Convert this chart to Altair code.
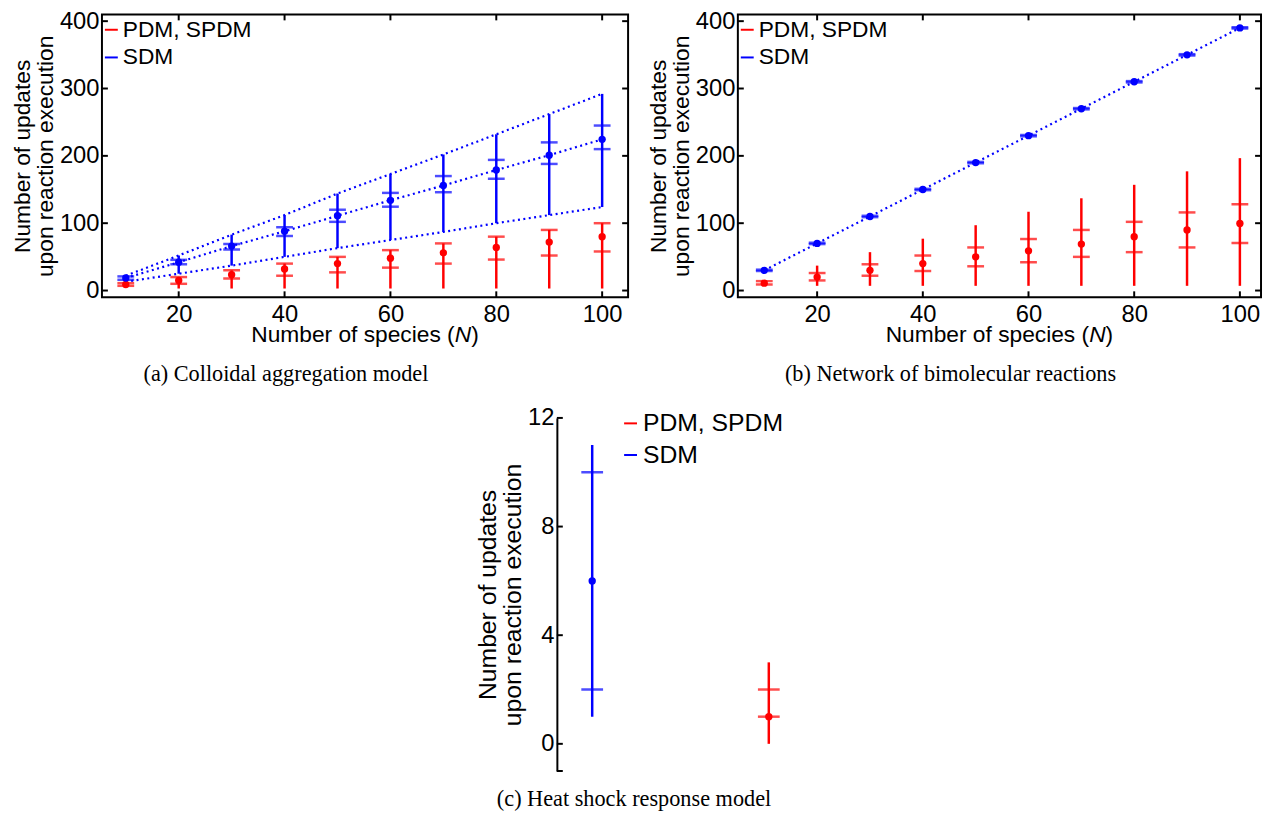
import altair as alt
import pandas as pd

# ---------------- data ----------------
N = [10, 20, 30, 40, 50, 60, 70, 80, 90, 100]
SERIES = ["PDM, SPDM", "SDM"]
COLORS = ["#ff0000", "#0000ff"]

# (a) Colloidal aggregation model
a_red_mean = [9, 15, 23.5, 32, 40, 48, 56, 64, 72, 80]
a_red_min = [4, 3, 3, 3, 3, 3, 3, 3, 3, 3]
a_red_max = [12.5, 20, 30, 40, 50, 60, 70, 80, 90, 100]
a_red_qlo = [7, 10, 18, 22, 27, 34, 40, 46, 52, 58]
a_red_qhi = [11, 20, 30, 40, 50, 60, 70, 80, 90, 100]
a_blue_mean = [18.6, 42, 66, 88, 111, 134, 156, 179, 201, 224.5]
a_blue_min = [13, 25, 37, 50, 63, 75, 87, 100, 112, 124]
a_blue_max = [22, 52, 83, 112, 144, 173, 202, 232, 262, 292]
a_blue_qlo = [16, 39, 61, 81, 102, 124.5, 146, 166, 188, 210]
a_blue_qhi = [21, 45.6, 69, 94, 120, 145, 170, 194, 220, 245]

# (b) Network of bimolecular reactions
b_red_mean = [11, 20, 30, 40, 50, 59, 69, 80, 90, 99.5]
b_red_min = [8, 7, 7, 7, 7, 7, 7, 7, 7, 7]
b_red_max = [15, 37, 57, 77, 97, 117, 137, 157, 177, 196.6]
b_red_qlo = [9, 15, 22, 29, 36, 42, 50, 57, 64, 70.6]
b_red_qhi = [14, 26, 39, 52, 64, 76.5, 90, 102, 116, 128]
b_blue_mean = [30, 70, 110, 150, 190, 230, 270, 310, 350, 390]
b_blue_min = [29, 69, 109, 149, 189, 229, 269, 309, 349, 389]
b_blue_max = [31, 71, 111, 151, 191, 231, 271, 311, 351, 391]
b_blue_qlo = [29, 69, 109, 149, 189, 229, 269, 309, 349, 389]
b_blue_qhi = [31, 71, 111, 151, 191, 231, 271, 311, 351, 391]

# (c) Heat shock response model
c_pos = [1, 2]
c_series = ["SDM", "PDM, SPDM"]
c_mean = [6, 1]
c_min = [1, 0]
c_max = [11, 3]
c_qlo = [2, 1]
c_qhi = [10, 2]

XTICKS = [20, 40, 60, 80, 100]
YTICKS_AB = [0, 100, 200, 300, 400]
YTICKS_C = [0, 4, 8, 12]

CAP_A = "(a) Colloidal aggregation model"
CAP_B = "(b) Network of bimolecular reactions"
CAP_C = "(c) Heat shock response model"
YTITLE = ["Number of updates", "upon reaction execution"]
XTITLE_PARTS = ["Number of species (", "N", ")"]

SANS = "Liberation Sans"
SERIF = "Liberation Serif"


def frame(red, blue):
    rows = []
    for s, d in ((SERIES[0], red), (SERIES[1], blue)):
        for i, n in enumerate(N):
            rows.append(dict(N=n, series=s, mean=d[0][i], lo=d[1][i], hi=d[2][i],
                             qlo=d[3][i], qhi=d[4][i]))
    return pd.DataFrame(rows)


df_a = frame((a_red_mean, a_red_min, a_red_max, a_red_qlo, a_red_qhi),
             (a_blue_mean, a_blue_min, a_blue_max, a_blue_qlo, a_blue_qhi))
df_b = frame((b_red_mean, b_red_min, b_red_max, b_red_qlo, b_red_qhi),
             (b_blue_mean, b_blue_min, b_blue_max, b_blue_qlo, b_blue_qhi))
df_c = pd.DataFrame(dict(N=c_pos, series=c_series, mean=c_mean, lo=c_min, hi=c_max,
                         qlo=c_qlo, qhi=c_qhi))

cscale = alt.Scale(domain=SERIES, range=COLORS)

FS_TICK = 24
FS_TITLE = 23
FS_LEG = 23
FS_CAP = 22.5


def legend(x, y, fs, rowpad=4):
    return alt.Legend(orient="none", legendX=x, legendY=y, title=None,
                      symbolType="stroke", symbolSize=170, symbolStrokeWidth=2,
                      labelFont=SANS, labelFontSize=fs, labelColor="black",
                      labelOffset=0, rowPadding=rowpad, padding=0)


def xtitle_layers(W, H, fs=23):
    # "Number of species (N)" with italic N, built from three text pieces
    w1 = 8.947 * fs
    w2 = 0.722 * fs
    w3 = 0.333 * fs
    x0 = W / 2 - (w1 + w2 + w3) / 2
    out = []
    for txt, x, style in ((XTITLE_PARTS[0], x0, "normal"),
                          (XTITLE_PARTS[1], x0 + w1, "italic"),
                          (XTITLE_PARTS[2], x0 + w1 + w2, "normal")):
        out.append(alt.Chart(pd.DataFrame({"t": [txt]})).mark_text(
            font=SANS, fontSize=fs, fontStyle=style, align="left", baseline="middle",
            color="black").encode(x=alt.value(x), y=alt.value(H + 38), text="t:N"))
    return out


def panel(df, xs, ys, xaxis, yaxis, W, H, leg, cap, capx, capy, dotted, xt, yt, box=True,
          capw=17, xtitle=True):
    base = alt.Chart(df)
    layers = []
    for f in dotted:
        layers.append(
            base.transform_filter(alt.datum.series == "SDM").mark_line(
                strokeDash=[2, 3.5], strokeWidth=2.2, color=COLORS[1]
            ).encode(x=alt.X("N:Q", scale=xs), y=alt.Y(f + ":Q", scale=ys))
        )
    layers.append(
        base.mark_rule(strokeWidth=2.5).encode(
            x=alt.X("N:Q", scale=xs, axis=xaxis),
            y=alt.Y("lo:Q", scale=ys, axis=yaxis),
            y2="hi:Q",
            color=alt.Color("series:N", scale=cscale, legend=leg),
        )
    )
    for f in ("qlo", "qhi"):
        layers.append(
            base.mark_tick(orient="horizontal", size=capw, thickness=2.5).encode(
                x=alt.X("N:Q", scale=xs), y=alt.Y(f + ":Q", scale=ys),
                color=alt.Color("series:N", scale=cscale, legend=None),
            )
        )
    layers.append(
        base.mark_circle(size=55, opacity=1).encode(
            x=alt.X("N:Q", scale=xs), y=alt.Y("mean:Q", scale=ys),
            color=alt.Color("series:N", scale=cscale, legend=None),
        )
    )
    if xt:
        xdf = alt.Chart(pd.DataFrame({"t": xt}))
        layers.append(xdf.mark_rule(strokeWidth=2, color="black").encode(
            x=alt.X("t:Q", scale=xs), y=alt.value(H), y2=alt.value(H - 6)))
        if box:
            layers.append(xdf.mark_rule(strokeWidth=2, color="black").encode(
                x=alt.X("t:Q", scale=xs), y=alt.value(0), y2=alt.value(6)))
    ydf = alt.Chart(pd.DataFrame({"t": yt}))
    layers.append(ydf.mark_rule(strokeWidth=2, color="black").encode(
        y=alt.Y("t:Q", scale=ys), x=alt.value(0), x2=alt.value(6)))
    if box:
        layers.append(ydf.mark_rule(strokeWidth=2, color="black").encode(
            y=alt.Y("t:Q", scale=ys), x=alt.value(W), x2=alt.value(W - 6)))
    if xtitle:
        layers += xtitle_layers(W, H)
    layers.append(
        alt.Chart(pd.DataFrame({"c": [cap]})).mark_text(
            font=SERIF, fontSize=FS_CAP, align="center", baseline="middle", color="black"
        ).encode(x=alt.value(capx), y=alt.value(capy), text="c:N")
    )
    ch = alt.layer(*layers).properties(width=W, height=H)
    if box:
        ch = ch.properties(view=alt.ViewBackground(stroke="black", strokeWidth=2))
    return ch


def xaxis_ab():
    return alt.Axis(values=XTICKS, title=None, ticks=False, tickSize=0, grid=False,
                    domain=False, labelPadding=6, labelFlush=False)


def yaxis_ab():
    return alt.Axis(values=YTICKS_AB, title=YTITLE, ticks=False, tickSize=0, grid=False,
                    domain=False, labelPadding=3, titlePadding=2, titleLineHeight=23)


ys = alt.Scale(domain=[-10, 410], nice=False, zero=False)
xs_a = alt.Scale(domain=[5.5, 104.9], nice=False, zero=False)
xs_b = alt.Scale(domain=[5, 104], nice=False, zero=False)

WA, WB, H = 532, 529, 286

pa = panel(df_a, xs_a, ys, xaxis_ab(), yaxis_ab(), WA, H, legend(-2, 4, FS_LEG),
           CAP_A, 186, 364, ["hi", "mean", "lo"], XTICKS, YTICKS_AB)
pb = panel(df_b, xs_b, ys, xaxis_ab(), yaxis_ab(), WB, H, legend(-2, 4, FS_LEG),
           CAP_B, 215, 364, ["mean"], XTICKS, YTICKS_AB)

xs_c = alt.Scale(domain=[0.8, 2.2], nice=False, zero=False)
ys_c = alt.Scale(domain=[-1, 12], nice=False, zero=False)
xaxis_c = alt.Axis(title=None, labels=False, ticks=False, domain=False, grid=False)
yaxis_c = alt.Axis(values=YTICKS_C, title=YTITLE, ticks=False, tickSize=0, grid=False,
                   domain=True, domainColor="black", domainWidth=2, labelPadding=3,
                   titlePadding=2, titleLineHeight=25, labelFontSize=24, titleFontSize=25)
WC, HC = 250, 357
pc = panel(df_c, xs_c, ys_c, xaxis_c, yaxis_c, WC, HC, legend(62, -7, 25, rowpad=6),
           CAP_C, 78, 385, [], [], YTICKS_C + [-1], box=False, capw=22, xtitle=False)

spacer = alt.Chart(pd.DataFrame({"v": [0]})).mark_point(opacity=0).encode(
    x=alt.value(0), y=alt.value(0)).properties(width=376, height=10)

top = alt.hconcat(pa, pb, spacing=16).resolve_legend(color="independent")
bottom = alt.hconcat(spacer, pc, spacing=0).resolve_legend(color="independent")
chart = alt.vconcat(top, bottom, spacing=18).resolve_legend(color="independent").properties(
    padding={"left": 2, "top": -5, "right": 0, "bottom": 0}
).configure_view(stroke="transparent").configure_axis(
    labelFont=SANS, titleFont=SANS, labelFontSize=FS_TICK, titleFontSize=FS_TITLE,
    labelColor="black", titleColor="black", titleFontWeight="normal"
)

chart.save("out.html", embed_options={"renderer": "svg", "actions": False})
